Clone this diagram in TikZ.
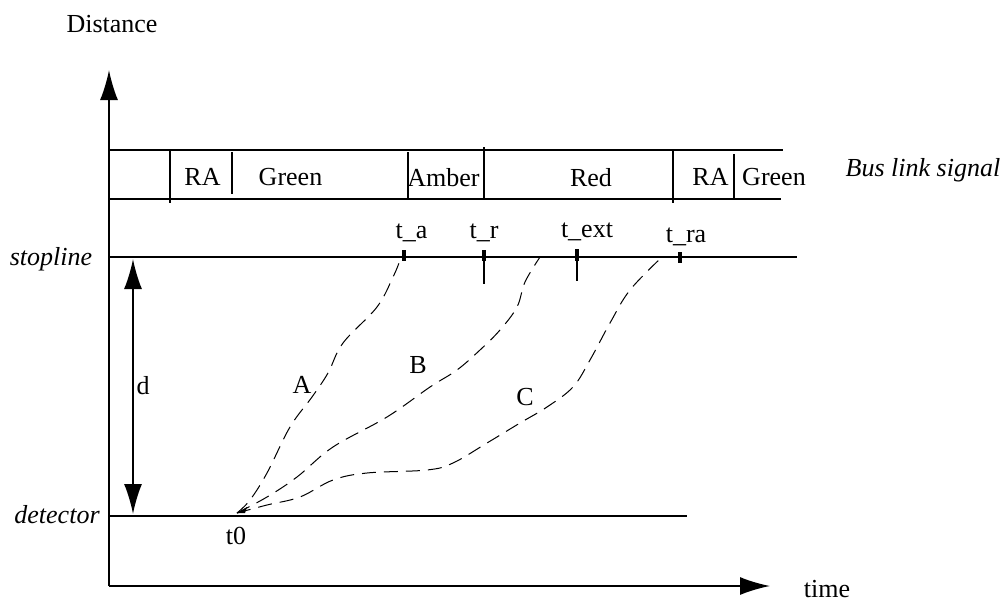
\documentclass[tikz,border=0pt]{standalone}
\usepackage{fontspec}
\setmainfont{Liberation Serif}
\usetikzlibrary{arrows.meta,positioning,calc}

\tikzset{
  lbl/.style={font=\fontsize{13pt}{15pt}\selectfont, inner sep=0pt, anchor=base},
  ilbl/.style={lbl, font=\fontsize{13pt}{15pt}\selectfont\itshape},
  axis/.style={line width=0.9pt, -{Latex[length=15pt,width=9pt]}},
  bar/.style={line width=0.9pt},
  tick/.style={line width=1.7pt},
  trip/.style={line width=0.5pt, dash pattern=on 7pt off 4pt}
}

\begin{document}
\begin{tikzpicture}[x=0.5pt, y=-0.5pt]
\useasboundingbox (0,0) rectangle (1003,600);

\coordinate (origin) at (109,586);
\coordinate (ytip) at (109,70);
\coordinate (xtip) at (770,586);

\draw[axis] (origin) -- (ytip);
\draw[axis] (origin) -- (xtip);
\node[lbl] (dist) at (112,32) {Distance};
\node[lbl] (time) at (827,597) {time};

% ------------------------------- signal band
\draw[bar] (109,150) -- (783,150);
\draw[bar] (109,199) -- (781,199);
\draw[bar] (170,150) -- (170,203);
\draw[bar] (232,152) -- (232,194);
\draw[bar] (408,152) -- (408,198);
\draw[bar] (484,147) -- (484,199);
\draw[bar] (673,150) -- (673,203);
\draw[bar] (734,154) -- (734,198);

\node[lbl] (ra1) at (202.5,185) {RA};
\node[lbl] (green1) at (290.5,185) {Green};
\node[lbl] (amber) at (443.5,186) {Amber};
\node[lbl] (red) at (591,186) {Red};
\node[lbl] (ra2) at (710.5,185) {RA};
\node[lbl] (green2) at (774,185) {Green};
\node[ilbl] (bus) at (923,176) {Bus link signal};

% ------------------------------- stopline and detector
\coordinate (stop) at (109,257);
\coordinate (stopend) at (797,257);
\coordinate (det) at (109,516);
\coordinate (detend) at (687,516);
\draw[bar] (stop) -- (stopend);
\draw[bar] (det) -- (detend);
\node[ilbl] (stoplbl) at (51,265) {stopline};
\node[ilbl, anchor=base east] (detlbl) at (100,523) {detector};

\coordinate (dtop) at (133,259);
\coordinate (dbot) at (133,514);
\draw[line width=0.9pt, {Latex[length=15pt,width=9pt]}-{Latex[length=15pt,width=9pt]}] (dtop) -- (dbot);
\node[lbl] (dlbl) at (143,394) {d};

% ------------------------------- time marks
\draw[tick] (404,250) -- (404,261);
\draw[tick] (484,250) -- (484,261);
\draw[bar] (484,257) -- (484,284);
\draw[tick] (577,249) -- (577,261);
\draw[bar] (577,257) -- (577,281);
\draw[tick] (680,252) -- (680,263);

\node[lbl] (ta) at (411.5,238) {t\_a};
\node[lbl] (tr) at (484,238) {t\_r};
\node[lbl] (text) at (587,237) {t\_ext};
\node[lbl] (tra) at (686,242) {t\_ra};

% ------------------------------- trajectories
\coordinate (t0) at (237,513);
\node[lbl] (t0lbl) at (236,544) {t0};

\draw[trip] plot[smooth, tension=0.6] coordinates {(237,513) (250,500) (267,473) (290,427) (312,397) (328,373) (343,343) (377,307) (393,277) (399,263)};
\draw[trip] plot[smooth, tension=0.6] coordinates {(237,513) (267,497) (297,477) (333,447) (387,417) (430,387) (457,370) (480,350) (500,330) (517,307) (525,282) (540,257)};
\draw[trip] plot[smooth, tension=0.6] coordinates {(237,513) (267,505) (300,497) (333,480) (367,473) (427,470) (453,463) (487,443) (520,423) (547,407) (573,387) (590,360) (610,323) (630,290) (662,257)};
\fill (t0) -- ++(10,-6) -- ++(-2,6) -- cycle;

\node[lbl] (lblA) at (302,393) {A};
\node[lbl] (lblB) at (418,373) {B};
\node[lbl] (lblC) at (525,405) {C};
\end{tikzpicture}
\end{document}
